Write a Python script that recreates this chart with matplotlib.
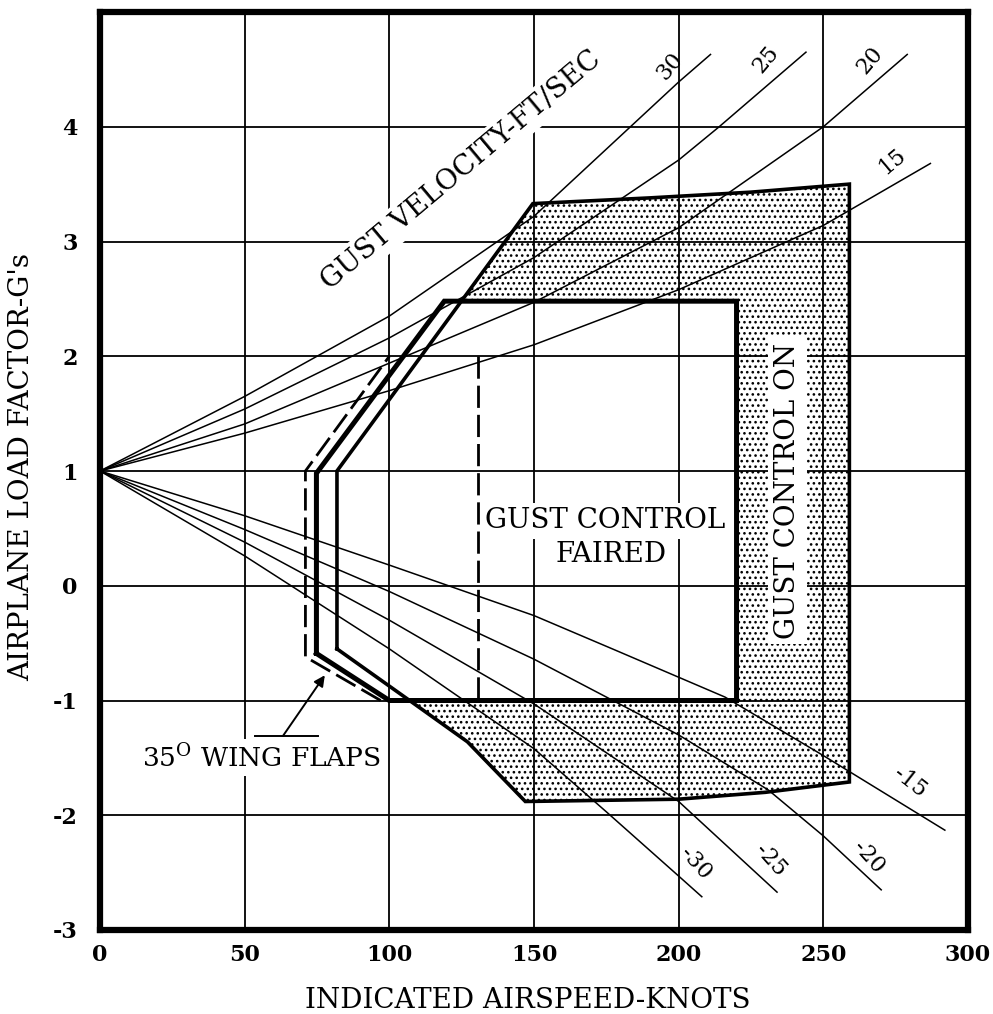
import matplotlib.pyplot as plt

plt.rcParams['font.family'] = ['DejaVu Serif']
plt.rcParams['mathtext.fontset'] = 'dejavuserif'
plt.rcParams['axes.unicode_minus'] = False
plt.rcParams['hatch.linewidth'] = 1.1

# gust lines (speed in knots, load factor in g)
g30_v = [0, 50, 100, 150, 200, 211]
g30_n = [1, 1.65, 2.35, 3.22, 4.39, 4.63]
g25_v = [0, 50, 100, 150, 200, 214, 244]
g25_n = [1, 1.54, 2.16, 2.86, 3.71, 4.0, 4.65]
g20_v = [0, 50, 100, 150, 200, 250, 279]
g20_n = [1, 1.41, 1.94, 2.47, 3.12, 4.0, 4.63]
g15_v = [0, 50, 100, 150, 200, 250, 287]
g15_n = [1, 1.33, 1.70, 2.10, 2.58, 3.14, 3.68]

m15_v = [0, 50, 100, 150, 178, 216, 250, 292]
m15_n = [1, 0.61, 0.18, -0.26, -0.56, -0.97, -1.48, -2.13]
m20_v = [0, 50, 100, 150, 200, 231, 250, 270]
m20_n = [1, 0.49, -0.05, -0.64, -1.30, -1.78, -2.18, -2.65]
m25_v = [0, 50, 100, 150, 200, 234]
m25_n = [1, 0.38, -0.30, -1.03, -1.88, -2.67]
m30_v = [0, 50, 100, 150, 175, 200, 208]
m30_n = [1, 0.26, -0.55, -1.42, -1.97, -2.53, -2.71]

gust_labels = ['30', '25', '20', '15', '-15', '-20', '-25', '-30']
label_v = [197, 230, 266, 274, 280, 265.5, 231.7, 205.8]
label_n = [4.53, 4.59, 4.58, 3.70, -1.71, -2.37, -2.39, -2.42]
label_rot = [50, 50, 50, 40, -38, -48, -48, -48]

# envelopes
on_v = [81.9, 81.9, 149.6, 190, 225, 259, 259, 230, 200, 147, 127, 107, 81.9]
on_n = [-0.55, 1.0, 3.33, 3.38, 3.43, 3.50, -1.71, -1.80, -1.86, -1.88, -1.36, -1.0, -0.55]
faired_v = [74.8, 74.8, 119, 220, 220, 100, 74.8]
faired_n = [-0.59, 0.98, 2.48, 2.48, -1.0, -1.0, -0.59]
flap_v = [97, 71, 71, 100]
flap_n = [-1.0, -0.62, 1.0, 2.0]
flap_edge_v = [130.5, 130.5]
flap_edge_n = [2.0, -1.0]

fig = plt.figure(figsize=(9.93, 10.14), dpi=100)
ax = fig.add_axes([100/993, 84/1014, 868/993, 918/1014])

# stippled region = outer envelope minus the faired envelope
ax.fill(on_v, on_n, facecolor='white', edgecolor='black', hatch='...', lw=0, zorder=0.1)
ax.fill(faired_v, faired_n, facecolor='white', lw=0, zorder=0.2)

for v, n in [(g30_v, g30_n), (g25_v, g25_n), (g20_v, g20_n), (g15_v, g15_n),
             (m15_v, m15_n), (m20_v, m20_n), (m25_v, m25_n), (m30_v, m30_n)]:
    ax.plot(v, n, color='black', lw=1.1, zorder=2)

ax.plot(on_v, on_n, color='black', lw=2.6, zorder=3, solid_joinstyle='miter')
ax.plot(faired_v, faired_n, color='black', lw=3.6, zorder=3, solid_joinstyle='miter')
ax.plot(flap_v, flap_n, color='black', lw=2.0, ls=(0, (8, 2.5)), zorder=3)
ax.plot(flap_edge_v, flap_edge_n, color='black', lw=2.0, ls=(0, (8, 2.5)), zorder=3)

for t, v, n, r in zip(gust_labels, label_v, label_n, label_rot):
    ax.text(v, n, t, fontsize=16, rotation=r, ha='center', va='center', zorder=4)

box = dict(facecolor='white', edgecolor='none', pad=3)
ax.text(125, 3.62, 'GUST VELOCITY-FT/SEC', fontsize=20, rotation=40,
        ha='center', va='center', bbox=box, zorder=4)
ax.text(174.7, 0.565, 'GUST CONTROL', fontsize=20, ha='center', va='center',
        bbox=box, zorder=4)
ax.text(176.8, 0.27, 'FAIRED', fontsize=20, ha='center', va='center',
        bbox=box, zorder=4)
ax.text(237.6, 0.83, 'GUST CONTROL ON', fontsize=20, rotation=90,
        ha='center', va='center', bbox=dict(facecolor='white', edgecolor='none', pad=4), zorder=4)
ax.text(55.9, -1.50, r'35$^{\mathrm{O}}$ WING FLAPS', fontsize=19,
        ha='center', va='center', bbox=box, zorder=4)

# leader and arrow for the flaps note
ax.plot([53.5, 75.3], [-1.31, -1.31], color='black', lw=1.4, zorder=5)
ax.annotate('', xy=(77.7, -0.78), xytext=(63.2, -1.31),
            arrowprops=dict(arrowstyle='-|>', color='black', lw=1.4,
                            mutation_scale=16, shrinkA=0, shrinkB=0), zorder=5)

ax.set_xlim(0, 300)
ax.set_ylim(-3, 5)
ax.set_xticks([0, 50, 100, 150, 200, 250, 300])
ax.set_yticks([-3, -2, -1, 0, 1, 2, 3, 4])
ax.tick_params(length=0, labelsize=16)
ax.tick_params(axis='x', pad=10)
ax.tick_params(axis='y', pad=16)
for lab in ax.get_xticklabels() + ax.get_yticklabels():
    lab.set_fontweight('bold')
ax.grid(True, color='black', lw=1.3)
ax.set_axisbelow(True)
for s in ax.spines.values():
    s.set_linewidth(4.5)

fig.text(528/993, 1 - 1000/1014, 'INDICATED AIRSPEED-KNOTS', fontsize=20,
         ha='center', va='center')
fig.text(22/993, 1 - 467/1014, "AIRPLANE LOAD FACTOR-G's", fontsize=20,
         rotation=90, ha='center', va='center')

fig.savefig('out.png', dpi=100)
